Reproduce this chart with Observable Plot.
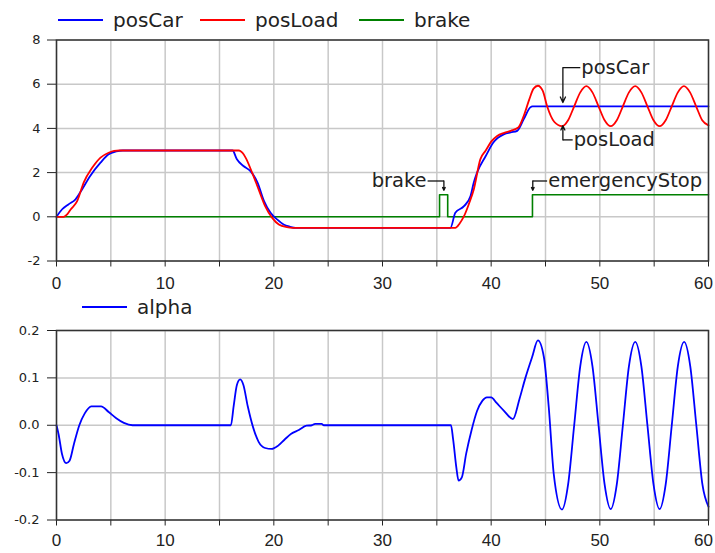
<!DOCTYPE html>
<html><head><meta charset="utf-8">
<script src="https://cdn.jsdelivr.net/npm/d3@7"></script>
<script src="https://cdn.jsdelivr.net/npm/@observablehq/plot@0.6"></script>
<style>
body{margin:0;background:#fff;}
#wrap{position:relative;width:715px;height:553px;font-family:"DejaVu Sans",sans-serif;background:#fff;overflow:hidden;}
.panel{position:absolute;left:0;}
.leg{position:absolute;display:flex;align-items:center;height:24px;font-size:20px;color:#222;white-space:nowrap;font-family:"DejaVu Sans",sans-serif;z-index:5;}
.sw{display:inline-block;width:45px;height:2px;margin-right:10px;}
</style></head><body><div id="wrap"></div><script>
// ---------- data ----------
const carT = [0,0.5,1.1,1.75,2.35,3.1,4.05,4.8,5.5,6.1,16.2,16.6,17.2,17.85,18.5,19.1,19.7,20.3,20.9,21.5,22.0,36.25,36.7,37.5,38.1,38.4,38.7,39.5,40.2,41.2,41.8,42.4,43.0,43.6,43.8,60];
const carV = [0,0.33,0.56,0.79,1.24,1.85,2.45,2.83,2.96,3.0,3.0,2.6,2.3,2.07,1.55,0.71,0.18,-0.12,-0.35,-0.45,-0.5,-0.5,0.18,0.48,0.94,1.55,2.0,2.75,3.36,3.74,3.82,3.89,4.42,4.95,5.0,5.0];

const loadT = [0,0.65,1.0,1.3,1.9,2.5,3.3,4.05,4.8,5.3,5.8,16.8,17.1,17.4,18.0,18.6,19.2,19.85,20.46,21.2,21.7,36.7,37.1,37.5,38.0,38.4,39.0,39.5,40.0,40.55,41.2,41.8,42.5,43.0,43.5,43.9,44.3,44.75,45.15,45.8,46.52,47.08,47.64,48.2,48.76,49.32,49.88,50.44,51.0,51.56,52.12,52.68,53.26,53.82,54.38,54.94,55.5,56.06,56.62,57.18,57.74,58.3,58.86,59.42,60];
const loadV = [0,0,0.12,0.33,0.71,1.55,2.23,2.68,2.9,2.98,3.0,3.0,2.9,2.68,2.0,1.24,0.48,-0.05,-0.35,-0.47,-0.5,-0.5,-0.3,0.03,0.65,1.24,2.6,3.0,3.4,3.66,3.8,3.89,4.04,4.57,5.3,5.8,5.93,5.7,5.0,4.3,4.1,4.37,5.0,5.63,5.91,5.63,5.0,4.37,4.1,4.37,5.0,5.63,5.91,5.63,5.0,4.37,4.1,4.37,5.0,5.63,5.91,5.63,5.0,4.37,4.14];

const brakeT = [0,35.25,36.0,43.8,60];
const brakeV = [0,1,0,1,1];

const alphaT = [0,0.2,0.5,0.9,1.2,1.6,2.1,2.6,3.2,4.1,4.8,5.5,6.2,7.0,16.05,16.3,16.6,16.9,17.2,17.6,18.1,18.6,19.2,19.8,20.4,21.0,21.6,22.3,23.0,23.5,23.8,24.4,24.6,36.3,36.5,36.8,37.0,37.3,37.7,38.2,38.7,39.2,39.6,40.0,40.5,41.2,42.0,42.6,43.15,43.77,44.3,44.85,45.3,45.76,46.52,47.08,47.64,48.2,48.76,49.32,49.88,50.44,51.0,51.56,52.12,52.68,53.26,53.82,54.38,54.94,55.5,56.06,56.62,57.18,57.76,58.32,58.88,59.44,60];
const alphaV = [0,-0.02,-0.06,-0.08,-0.075,-0.04,0,0.025,0.04,0.04,0.028,0.015,0.005,0,0,0.04,0.085,0.097,0.085,0.04,-0.005,-0.035,-0.048,-0.05,-0.043,-0.03,-0.018,-0.01,-0.001,0,0.003,0.003,0,0,-0.03,-0.09,-0.117,-0.11,-0.06,-0.01,0.03,0.052,0.059,0.059,0.047,0.03,0.013,0.055,0.1,0.144,0.179,0.144,0.038,-0.103,-0.178,-0.125,0,0.125,0.176,0.125,0,-0.125,-0.177,-0.125,0,0.125,0.176,0.125,0,-0.125,-0.177,-0.125,0,0.125,0.176,0.125,0,-0.125,-0.172];

const xTicks = [0,5,10,15,20,25,30,35,40,45,50,55,60];
const xLabelTicks = [0,10,20,30,40,50];
const xLastTick = [60];
const yTopTicks = [-2,0,2,4,6,8];
const yBotTicks = [-0.2,-0.1,0,0.1,0.2];

const annoText = ["posCar","posLoad","brake","emergencyStop"];
const annoTipT = [46.6,46.6,35.65,43.83];
const annoTipV = [5.17,4.12,1.2,1.2];
const annoElbowV = [6.75,3.48,1.62,1.62];
const annoLabelT = [48.2,47.5,34.15,45.15];

const topLegend = ["posCar","posLoad","brake"];
const topColors = ["#0000ff","#ff0000","#008000"];
const botLegend = ["alpha"];
const botColors = ["#0000ff"];

// ---------- build ----------
const wrap = document.getElementById("wrap");
const gridStyle = {stroke:"#c8c8c8", strokeOpacity:1, strokeWidth:1.5};
const xFont = {fontSize:17, fontFamily:"'Liberation Sans',Arial,sans-serif"};
const yFont = {fontSize:13, fontFamily:"'DejaVu Sans',sans-serif"};

function xAxes(pad){
  return [
    Plot.axisX(xTicks, {tickSize:6, tickFormat:null, text:null, color:"#222"}),
    Plot.axisX(xLabelTicks, {tickSize:0, tickPadding:6 + pad, tickFormat:d=>String(d), color:"#222", ...xFont}),
    Plot.axisX(xLastTick, {tickSize:0, tickPadding:6 + pad, tickFormat:d=>String(d), color:"#222", dx:-5, ...xFont})
  ];
}

const anno = annoText.map((s,i)=>({s, tipT:annoTipT[i], tipV:annoTipV[i], elbowV:annoElbowV[i], labT:annoLabelT[i]}));
const annoStart = anno.filter(d => d.labT > d.tipT);
const annoEnd = anno.filter(d => d.labT < d.tipT);

const topPlot = Plot.plot({
  width:715, height:300, marginTop:39.5, marginBottom:39.5, marginLeft:56, marginRight:7,
  style:{background:"transparent", fontFamily:"DejaVu Sans", color:"#222"},
  x:{domain:[0,60], axis:null},
  y:{domain:[-2,8], axis:null},
  marks:[
    Plot.gridX(xTicks, gridStyle),
    Plot.gridY(yTopTicks, gridStyle),
    ...xAxes(10),
    Plot.axisY(yTopTicks, {tickSize:9, tickPadding:7, tickFormat:d=>String(d), color:"#222", ...yFont}),
    Plot.line(brakeV, {x:brakeT, y:brakeV, stroke:topColors[2], strokeWidth:1.6, curve:"step-after"}),
    Plot.line(carV, {x:carT, y:carV, stroke:topColors[0], strokeWidth:1.8, curve:"monotone-x"}),
    Plot.line(loadV, {x:loadT, y:loadV, stroke:topColors[1], strokeWidth:1.8, curve:"monotone-x"}),
    Plot.link(anno, {x1:"labT", y1:"elbowV", x2:"tipT", y2:"elbowV", stroke:"#111", strokeWidth:1.3}),
    Plot.arrow(anno, {x1:"tipT", y1:"elbowV", x2:"tipT", y2:"tipV", stroke:"#111", strokeWidth:1.3, headLength:7, headAngle:50}),
    Plot.text(annoStart, {x:"labT", y:"elbowV", text:"s", textAnchor:"start", dx:1, fontSize:19.5, fill:"#222", fontFamily:"DejaVu Sans"}),
    Plot.text(annoEnd, {x:"labT", y:"elbowV", text:"s", textAnchor:"end", dx:-1, fontSize:19.5, fill:"#222", fontFamily:"DejaVu Sans"}),
    Plot.frame({stroke:"#333", strokeWidth:1.5})
  ]
});
topPlot.classList.add("panel");
topPlot.style.top = "0px";
wrap.appendChild(topPlot);

const botPlot = Plot.plot({
  width:715, height:253, marginTop:30, marginBottom:33.5, marginLeft:56, marginRight:7,
  style:{background:"transparent", fontFamily:"DejaVu Sans", color:"#222"},
  x:{domain:[0,60], axis:null},
  y:{domain:[-0.2,0.2], axis:null},
  marks:[
    Plot.gridX(xTicks, gridStyle),
    Plot.gridY(yBotTicks, gridStyle),
    ...xAxes(8),
    Plot.axisY(yBotTicks, {tickSize:9, tickPadding:8, tickFormat:d=>d.toFixed(1), color:"#222", ...yFont}),
    Plot.line(alphaV, {x:alphaT, y:alphaV, stroke:botColors[0], strokeWidth:1.8, curve:"monotone-x"}),
    Plot.frame({stroke:"#333", strokeWidth:1.5})
  ]
});
botPlot.classList.add("panel");
botPlot.style.top = "300px";
wrap.appendChild(botPlot);

function legend(names, colors, lefts, top){
  names.forEach((n,i)=>{
    const d = document.createElement("div");
    d.className = "leg";
    d.style.left = lefts[i] + "px";
    d.style.top = top + "px";
    const s = document.createElement("span");
    s.className = "sw"; s.style.background = colors[i];
    d.appendChild(s);
    d.appendChild(document.createTextNode(n));
    wrap.appendChild(d);
  });
}
legend(topLegend, topColors, [58,200,359], 7.5);
legend(botLegend, botColors, [82], 295);
</script></body></html>
